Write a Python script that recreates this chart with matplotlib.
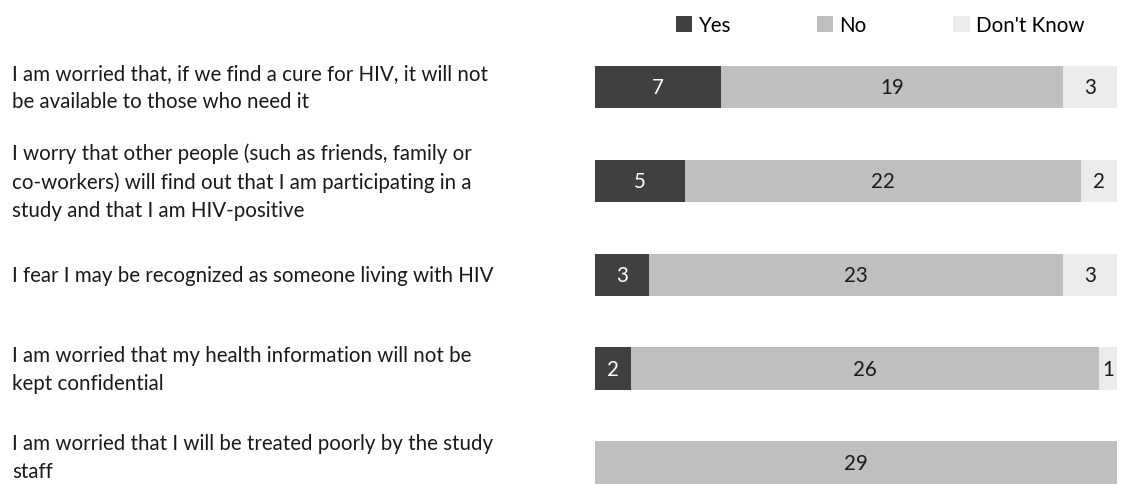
import matplotlib
matplotlib.use("Agg")
import matplotlib.pyplot as plt
import matplotlib.transforms as mtransforms
from matplotlib.patches import Patch

plt.rcParams['font.family'] = ['Lato', 'DejaVu Sans']

statements = [
    "I am worried that, if we find a cure for HIV, it will not\nbe available to those who need it",
    "I worry that other people (such as friends, family or\nco-workers) will find out that I am participating in a\nstudy and that I am HIV-positive",
    "I fear I may be recognized as someone living with HIV",
    "I am worried that my health information will not be\nkept confidential",
    "I am worried that I will be treated poorly by the study\nstaff",
]
series_names = ["Yes", "No", "Don't Know"]
yes_counts = [7, 5, 3, 2, 0]
no_counts = [19, 22, 23, 26, 29]
dk_counts = [3, 2, 3, 1, 0]

colors = ["#404040", "#bfbfbf", "#ebebeb"]
text_colors = ["white", "#1a1a1a", "#1a1a1a"]

W, H = 1126, 485
FS = 14.8
fig = plt.figure(figsize=(W / 100, H / 100), dpi=100)
ax = fig.add_axes([595 / W, 0, 522 / W, 1])

rows = list(range(len(statements)))
left = [0] * len(rows)
for name, vals, col, tcol in zip(series_names, [yes_counts, no_counts, dk_counts], colors, text_colors):
    ax.barh(rows, vals, left=left, height=0.45, color=col, label=name)
    for r, v, l in zip(rows, vals, left):
        if v > 0:
            ax.text(l + v / 2, r, str(v), ha='center', va='center',
                    fontsize=FS, color=tcol)
    left = [a + b for a, b in zip(left, vals)]

ax.set_xlim(0, 29)
ax.set_ylim(4.229, -0.937)
ax.axis('off')

# statement labels: left-aligned at the figure edge, centred on each bar
trans = mtransforms.blended_transform_factory(fig.transFigure, ax.transData)
last = len(rows) - 1
for r, s in zip(rows, statements):
    t = trans
    if r == last:
        # keep the bottom line inside the canvas
        t = trans + mtransforms.ScaledTranslation(0, 6 / 100, fig.dpi_scale_trans)
    fig.text(12 / W, r, s, transform=t, ha='left', va='center',
             fontsize=FS, color='#1a1a1a', linespacing=1.5)

handles = [Patch(facecolor=c, edgecolor='none') for c in colors]
fig.legend(handles, series_names, loc='center', bbox_to_anchor=(880 / W, 1 - 26 / H),
           ncol=3, frameon=False, fontsize=FS, handlelength=0.8, handleheight=0.8,
           handletextpad=0.3, columnspacing=4.2)

fig.savefig("out.png", dpi=100)
